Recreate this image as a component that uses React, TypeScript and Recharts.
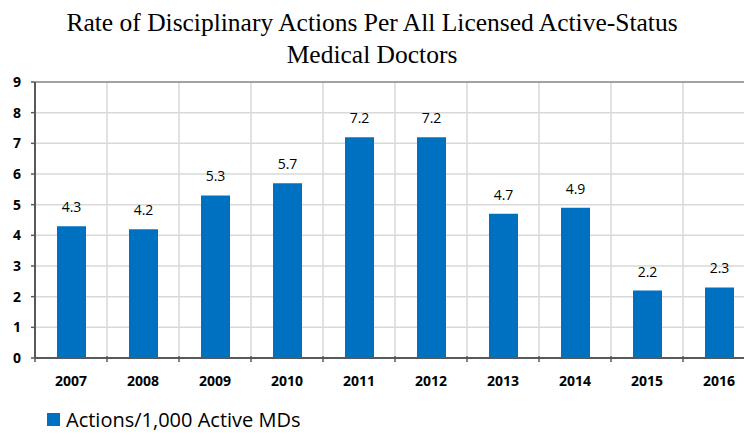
import React from 'react';
import { BarChart, Bar, XAxis, YAxis, CartesianGrid, LabelList, ReferenceLine } from 'recharts';

const years = ['2007', '2008', '2009', '2010', '2011', '2012', '2013', '2014', '2015', '2016'];
const rates = [4.3, 4.2, 5.3, 5.7, 7.2, 7.2, 4.7, 4.9, 2.2, 2.3];
const yTicks = [0, 1, 2, 3, 4, 5, 6, 7, 8, 9];

const data = years.map((year, i) => ({ year, rate: rates[i] }));

const BLUE = '#0070C0';
const AXIS = '#595959';
const FONT = '"Open Sans", "Liberation Sans", sans-serif';

// x tick: label at category centre, tick mark at the left band edge
const YearTick = (props: any) => {
  const { x, y, payload, width, visibleTicksCount } = props;
  const bw = width / visibleTicksCount;
  return (
    <g>
      <line x1={x - bw / 2} x2={x - bw / 2} y1={y - 10} y2={y - 4} stroke={AXIS} strokeWidth={1.5} />
      <text x={x} y={y + 20} textAnchor="middle" fontFamily={FONT} fontSize={14} fontWeight="bold" fill="#000">
        {payload.value}
      </text>
    </g>
  );
};

export default function App() {
  return (
    <div style={{ position: 'absolute', left: 0, top: 0, width: 744, height: 438, overflow: 'hidden', background: '#fff' }}>
      <div
        style={{
          position: 'absolute', left: 0, top: 7, width: 744, textAlign: 'center',
          fontFamily: '"Liberation Serif", serif', fontSize: 25.5, lineHeight: '32px', color: '#000',
        }}
      >
        Rate of Disciplinary Actions Per All Licensed Active-Status
        <br />
        Medical Doctors
      </div>
      <div style={{ position: 'absolute', top: 72, left: 0 }}>
        <BarChart width={760} height={366} data={data} margin={{ top: 10, right: 5, left: 5, bottom: 50 }} barSize={29}>
          <CartesianGrid
            stroke="#d9d9d9"
            strokeWidth={1.5}
            verticalCoordinatesGenerator={({ offset }: any) =>
              years.map((_, i) => offset.left + (offset.width / years.length) * (i + 1))
            }
          />
          <ReferenceLine y={9} stroke="#8c8c8c" strokeWidth={1.5} />
          <XAxis
            dataKey="year"
            height={30}
            axisLine={{ stroke: AXIS, strokeWidth: 2 }}
            tickLine={false}
            tick={<YearTick />}
            interval={0}
          />
          <YAxis
            width={30}
            domain={[0, 9]}
            ticks={yTicks}
            interval={0}
            axisLine={{ stroke: AXIS, strokeWidth: 2 }}
            tickLine={{ stroke: AXIS, strokeWidth: 1.5 }}
            tickSize={4}
            tickMargin={10}
            tick={{ fontFamily: FONT, fontSize: 14, fontWeight: 'bold', fill: '#000' }}
          />
          <Bar dataKey="rate" fill={BLUE} isAnimationActive={false}>
            <LabelList dataKey="rate" position="top" offset={14} fontFamily={FONT} fontSize={14} fill="#000" />
          </Bar>
        </BarChart>
      </div>
      <div style={{ position: 'absolute', left: 47, top: 406, display: 'flex', alignItems: 'center', fontFamily: FONT, fontSize: 20, color: '#000' }}>
        <span style={{ display: 'inline-block', width: 13, height: 13, background: BLUE, marginRight: 6 }} />
        Actions/1,000 Active MDs
      </div>
    </div>
  );
}
